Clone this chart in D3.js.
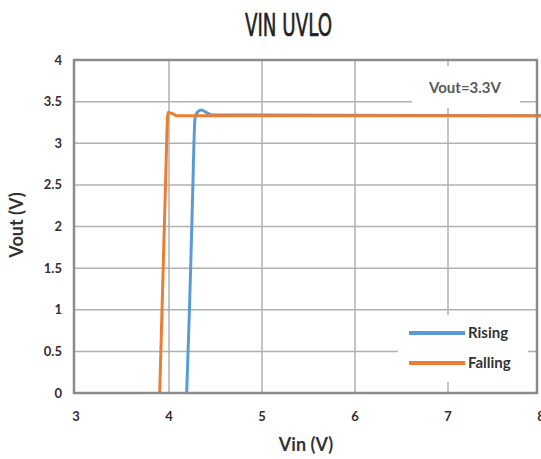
<!DOCTYPE html>
<html><head><meta charset="utf-8">
<script src="https://cdn.jsdelivr.net/npm/d3@7"></script>
<style>body{margin:0;background:#fff}svg{display:block}</style>
</head><body>
<svg id="c" width="541" height="459"></svg>
<script>
const xTicks = [3, 4, 5, 6, 7, 8];
const yTicks = [0, 0.5, 1, 1.5, 2, 2.5, 3, 3.5, 4];
const risingVin  = [4.19, 4.22, 4.25, 4.28, 4.31, 4.35, 4.40, 4.46, 8.0];
const risingVout = [0, 1.0, 2.2, 3.30, 3.38, 3.40, 3.37, 3.34, 3.33];
const fallingVin  = [3.90, 3.93, 3.96, 3.99, 4.03, 4.09, 4.16, 8.0];
const fallingVout = [0, 1.2, 2.4, 3.37, 3.36, 3.33, 3.33, 3.33];
const seriesNames = ["Rising", "Falling"];
const colors = ["#5b9bd5", "#ed7d31"];

(function () {
const svg = d3.select("#c");
const x = d3.scaleLinear().domain([3, 8]).range([76, 541]);
const y = d3.scaleLinear().domain([0, 4]).range([393, 60]);
const pL = 74, pR = 537, pT = 60, pB = 393;

// gridlines
const g = svg.append("g");
g.selectAll("line.v").data(xTicks.slice(1, -1)).join("line")
  .attr("x1", d => x(d)).attr("x2", d => x(d)).attr("y1", pT).attr("y2", pB)
  .attr("stroke", "#b0b0b0").attr("stroke-width", 1.5);
g.selectAll("line.h").data(yTicks.slice(1, -1)).join("line")
  .attr("x1", pL).attr("x2", pR).attr("y1", d => y(d)).attr("y2", d => y(d))
  .attr("stroke", "#b0b0b0").attr("stroke-width", 1.5);

// annotation box and legend box (white, break gridlines)
svg.append("rect").attr("x", 412).attr("y", 66).attr("width", 108).attr("height", 42).attr("fill", "#fff");
svg.append("rect").attr("x", 398).attr("y", 315).attr("width", 130).attr("height", 67).attr("fill", "#fff");

// series
const line = d3.line().x(d => x(d[0])).y(d => y(d[1])).curve(d3.curveMonotoneX);
const rising = risingVin.map((v, i) => [v, risingVout[i]]);
const falling = fallingVin.map((v, i) => [v, fallingVout[i]]);
[rising, falling].forEach((s, i) => {
  svg.append("path").datum(s).attr("d", line).attr("fill", "none")
    .attr("stroke", colors[i]).attr("stroke-width", 3).attr("stroke-linejoin", "round");
});

// frame
svg.append("rect").attr("x", pL).attr("y", pT).attr("width", pR - pL).attr("height", pB - pT)
  .attr("fill", "none").attr("stroke", "#8c8c8c").attr("stroke-width", 2.5);

// tick labels
const font = "Lato, 'Open Sans', sans-serif";
svg.append("g").selectAll("text").data(yTicks).join("text")
  .attr("x", 62).attr("y", d => y(d)).attr("dy", "0.35em").attr("text-anchor", "end")
  .attr("font-family", font).attr("font-weight", "bold").attr("font-size", 13).attr("fill", "#3a2a33")
  .text(d => d);
svg.append("g").selectAll("text").data(xTicks).join("text")
  .attr("x", d => x(d)).attr("y", 421).attr("text-anchor", "middle")
  .attr("font-family", font).attr("font-weight", "bold").attr("font-size", 13).attr("fill", "#3a2a33")
  .text(d => d);

// axis titles
svg.append("text").attr("x", 306).attr("y", 451).attr("text-anchor", "middle")
  .attr("font-family", font).attr("font-weight", "bold").attr("font-size", 18).attr("fill", "#333")
  .text("Vin (V)");
svg.append("text").attr("transform", "translate(23,225) rotate(-90)").attr("text-anchor", "middle")
  .attr("font-family", font).attr("font-weight", "bold").attr("font-size", 18).attr("fill", "#333")
  .text("Vout (V)");

// title
svg.append("text").attr("x", 245).attr("y", 36)
  .attr("font-family", "'Liberation Sans Narrow', 'DejaVu Sans Condensed', sans-serif")
  .attr("font-size", 32).attr("fill", "#222").attr("stroke", "#222").attr("stroke-width", 0.6)
  .attr("textLength", 87).attr("lengthAdjust", "spacingAndGlyphs")
  .text("VIN UVLO");

// annotation
svg.append("text").attr("x", 465).attr("y", 93).attr("text-anchor", "middle")
  .attr("font-family", font).attr("font-size", 15).attr("font-weight", "bold").attr("fill", "#595959")
  .text("Vout=3.3V");

// legend
seriesNames.forEach((n, i) => {
  const ly = 333 + i * 30;
  svg.append("line").attr("x1", 409).attr("x2", 465).attr("y1", ly).attr("y2", ly)
    .attr("stroke", colors[i]).attr("stroke-width", 4);
  svg.append("text").attr("x", 468).attr("y", ly).attr("dy", "0.35em")
    .attr("font-family", font).attr("font-size", 15).attr("font-weight", "bold").attr("fill", "#333")
    .text(n);
});
})();
</script>
</body></html>
